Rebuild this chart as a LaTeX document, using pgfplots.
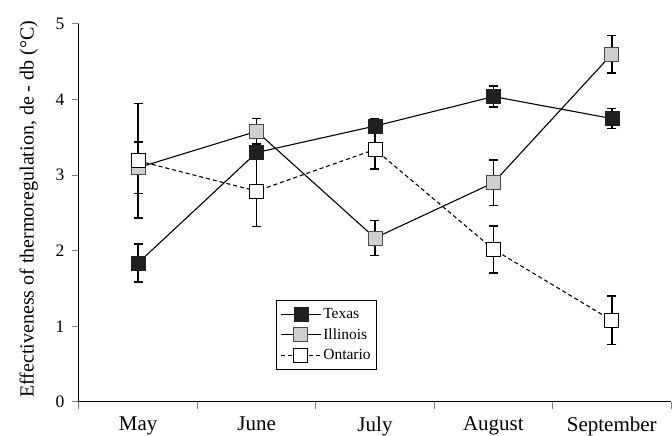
\documentclass[border=0pt]{standalone}
\usepackage{pgfplots}
\pgfplotsset{compat=1.18}
\usepackage{fontspec}
\setmainfont{Liberation Serif}

\definecolor{texfill}{HTML}{231F20}
\definecolor{illfill}{HTML}{CFCFCF}
\definecolor{illedge}{HTML}{4A4A4A}

\begin{document}
\begin{tikzpicture}
\path[use as bounding box] (-79pt,-34pt) rectangle (593pt,402pt);
\begin{axis}[
    at={(0pt,0pt)}, anchor=south west,
    scale only axis,
    width=592pt, height=378pt,
    xmin=0.5, xmax=5.5,
    ymin=0, ymax=5,
    axis x line*=bottom, axis y line*=left,
    axis line style={line width=1pt},
    tick align=outside,
    xtick={1,2,3,4,5},
    xticklabels={May,June,July,August,September},
    major x tick style={draw=none},
    minor xtick={0.5,1.5,2.5,3.5,4.5,5.5},
    minor x tick style={line width=1pt},
    minor tick length=7pt,
    major tick length=7pt,
    ytick={0,1,2,3,4,5},
    yticklabels={0,1,2,3,4,5},
    y tick style={line width=1pt},
    /pgf/number format/assume math mode=true,
    yticklabel style={font=\fontsize{17.5}{20}\selectfont, xshift=-4pt},
    xticklabel style={font=\fontsize{21}{24}\selectfont, yshift=-4pt},
    ylabel={Effectiveness of thermoregulation, de - db (°C)},
    every axis y label/.style={at={(axis description cs:-0.085,0.51)}, rotate=90, anchor=center, font=\fontsize{20}{23}\selectfont},
    error bars/y dir=both, error bars/y explicit,
    error bars/error bar style={line width=1.6pt, black, solid},
    error bars/error mark options={line width=1.6pt, mark size=4.5pt, rotate=90, solid},
    legend style={at={(axis cs:2.164,1.35)}, anchor=north west, draw=black, line width=0.8pt,
        font=\fontsize{15.5}{18}\selectfont, inner xsep=4pt, inner ysep=6pt, row sep=4.5pt,
        cells={anchor=west}, /tikz/every even column/.append style={column sep=3pt}},
    legend image code/.code={%
        \draw[#1, line width=0.9pt, mark size=5.3pt, mark repeat=2, mark phase=2] plot coordinates {(0pt,0pt) (20pt,0pt) (40pt,0pt)};},
]
\addplot[black, line width=1.1pt, mark=square*,
    mark options={solid, fill=texfill, draw=texfill, line width=0.6pt, mark size=7pt}]
coordinates {
    (1,1.84) +- (0,0.25)
    (2,3.30) +- (0,0.05)
    (3,3.65) +- (0,0.10)
    (4,4.04) +- (0,0.14)
    (5,3.75) +- (0,0.13)
};
\addlegendentry{Texas}
\addplot[black, line width=1.1pt, mark=square*,
    mark options={solid, fill=illfill, draw=illedge, line width=0.8pt, mark size=7pt}]
coordinates {
    (1,3.10) +- (0,0.34)
    (2,3.58) +- (0,0.17)
    (3,2.17) +- (0,0.23)
    (4,2.90) +- (0,0.30)
    (5,4.60) +- (0,0.25)
};
\addlegendentry{Illinois}
\addplot[black, line width=1.1pt, dash pattern=on 4pt off 3pt, mark=square*,
    mark options={solid, fill=white, draw=black, line width=0.8pt, mark size=7pt}]
coordinates {
    (1,3.19) +- (0,0.76)
    (2,2.79) +- (0,0.47)
    (3,3.34) +- (0,0.26)
    (4,2.02) +- (0,0.31)
    (5,1.08) +- (0,0.32)
};
\addlegendentry{Ontario}
\end{axis}
\end{tikzpicture}
\end{document}
